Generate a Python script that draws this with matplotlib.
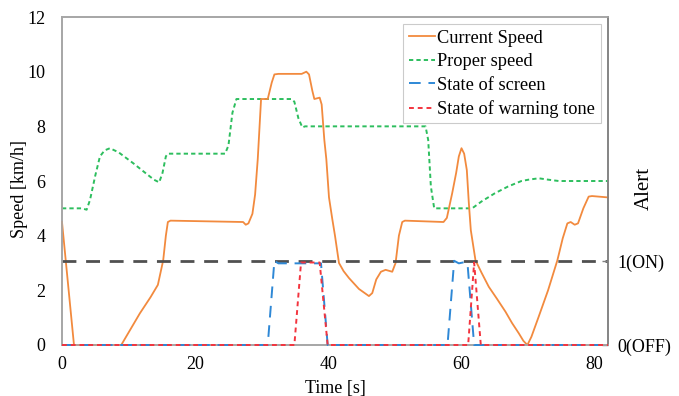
import matplotlib
matplotlib.use('Agg')
import matplotlib.pyplot as plt
import numpy as np

# Current speed [km/h]
cur_t = [0, 1.8, 8.9, 11.7, 13.3, 14.4, 15.2, 15.6, 15.9, 16.3, 27.2, 27.6, 28.0,
         28.6, 29.0, 29.4, 29.9, 30.9, 31.5, 31.9, 32.5, 36.0, 36.7, 37.1, 37.6,
         37.9, 38.7, 39.0, 39.4, 39.7, 40.1, 40.6, 41.0, 41.6, 42.3, 43.1, 44.6,
         46.1, 46.6, 47.2, 47.9, 48.6, 49.6, 50.1, 50.6, 51.1, 51.5, 57.3, 57.8,
         58.6, 59.2, 59.6, 60.0, 60.4, 60.8, 61.1, 61.4, 62.1, 63.0, 64.1, 65.3,
         66.6, 67.6, 68.6, 69.3, 69.9, 70.5, 71.6, 73.0, 74.4, 75.2, 75.9, 76.4,
         77.0, 77.5, 78.3, 79.1, 79.6, 82]
cur_v = [4.5, 0, 0, 1.16, 1.75, 2.2, 3.1, 4.0, 4.5, 4.55, 4.5, 4.4, 4.45,
         4.8, 5.5, 6.8, 9.0, 9.0, 9.6, 9.9, 9.92, 9.92, 10.0, 9.9, 9.3,
         9.0, 9.05, 8.8, 7.5, 6.8, 5.4, 4.6, 4.0, 3.0, 2.7, 2.45, 2.05,
         1.79, 1.9, 2.4, 2.68, 2.75, 2.68, 3.0, 4.0, 4.5, 4.55, 4.5, 4.65,
         5.55, 6.3, 6.9, 7.2, 7.0, 6.4, 5.2, 4.2, 3.1, 2.65, 2.13, 1.7,
         1.22, 0.8, 0.43, 0.15, 0.0, 0.3, 1.04, 2.0, 3.1, 3.9, 4.45, 4.5,
         4.4, 4.45, 5.0, 5.43, 5.45, 5.4]

# Proper speed [km/h]
prop_t = [0, 3.0, 3.7, 4.2, 5.0, 5.7, 6.4, 7.2, 8.5, 10.7, 12.5, 13.8, 14.6,
          15.1, 15.6, 15.9, 16.3, 24.5, 25.0, 25.6, 26.2, 26.6, 34.5, 34.9,
          35.5, 36.1, 36.5, 54.6, 55.0, 55.4, 55.9, 56.3, 61.6, 63, 65, 67,
          69, 70.1, 71.6, 73, 74.6, 82]
prop_v = [5.0, 5.0, 4.95, 5.3, 6.2, 6.9, 7.12, 7.2, 7.05, 6.65, 6.3, 6.05, 5.95,
          6.3, 6.9, 7.0, 7.0, 7.0, 7.3, 8.5, 9.0, 9.0, 9.0, 8.9,
          8.3, 7.96, 8.0, 8.0, 7.5, 5.8, 5.0, 5.0, 5.0, 5.25, 5.55, 5.8,
          6.0, 6.05, 6.1, 6.05, 6.0, 6.0]

# Alert states (0 = OFF, 1 = ON)
scr_t = [0, 30.9, 31.9, 32.5, 38.9, 39.9, 57.9, 58.9, 59.6, 60.2, 60.9, 61.9, 82]
scr_v = [0, 0, 1.0, 0.97, 0.97, 0, 0, 1.0, 0.97, 0.98, 0.97, 0, 0]
tone_t = [0, 34.9, 35.9, 38.7, 39.9, 61.0, 61.9, 62.9, 82]
tone_v = [0, 0, 0.98, 0.98, 0, 0, 0.98, 0, 0]

x_ticks = [0, 20, 40, 60, 80]
y_ticks = [0, 2, 4, 6, 8, 10, 12]
alert_ticks = [0, 1]
alert_labels = ['0(OFF)', '1(ON)']

plt.rcParams['font.family'] = ['Liberation Serif', 'DejaVu Serif']

fig = plt.figure(figsize=(6.79, 3.96), dpi=100)
ax = fig.add_axes([0.0913, 0.1288, 0.8041, 0.8282])
ax2 = ax.twinx()

l1, = ax.plot(cur_t, cur_v, color='#F28A3E', lw=1.3, label='Current Speed',
              clip_on=False, zorder=3)
l2, = ax.plot(prop_t, prop_v, color='#2DBE5E', lw=1.4, ls=(0, (2.2, 1.6)),
              label='Proper speed')
ax2.axhline(1, color='#505050', lw=2.0, ls=(0, (5, 3.5)), zorder=1)
l3, = ax2.plot(scr_t, scr_v, color='#2E88D6', lw=1.4, ls=(0, (6, 4)),
               label='State of screen', clip_on=False, zorder=3)
l4, = ax2.plot(tone_t, tone_v, color='#F3343E', lw=1.4, ls=(0, (2.5, 2)),
               label='State of warning tone', clip_on=False, zorder=3)

ax.set_xlim(0, 82)
ax.set_ylim(0, 12)
ax2.set_ylim(0, 12 / 3.08)
ax.set_xticks(x_ticks)
ax.set_yticks(y_ticks)
ax2.set_yticks(alert_ticks)
ax2.set_yticklabels(alert_labels)

ax.tick_params(axis='y', length=0, pad=12, labelsize=13)
ax.tick_params(axis='x', length=0, pad=8, labelsize=13)
ax2.tick_params(axis='y', length=4, direction='in', width=1, color='#7F7F7F',
                pad=6.5, labelsize=13)

for a in (ax, ax2):
    for s in a.spines.values():
        s.set_color('#A6A6A6')
        s.set_linewidth(1.2)
ax2.spines['right'].set_color('#7F7F7F')

ax.set_ylabel('Speed [km/h]', fontsize=13)
ax.yaxis.set_label_coords(-0.062, 0.476)
ax.set_xlabel('Time [s]', fontsize=13, labelpad=5)
ax2.set_ylabel('Alert', fontsize=15)
ax2.yaxis.set_label_coords(1.049, 0.476)

leg = ax2.legend(handles=[l1, l2, l3, l4], loc='upper right', fontsize=13.2,
                 frameon=True, fancybox=False, edgecolor='#BFBFBF',
                 handlelength=1.45, handletextpad=0.1, labelspacing=0.35,
                 borderpad=0.3, borderaxespad=0.4)
leg.get_frame().set_linewidth(0.8)

fig.savefig('out.png', dpi=100)
